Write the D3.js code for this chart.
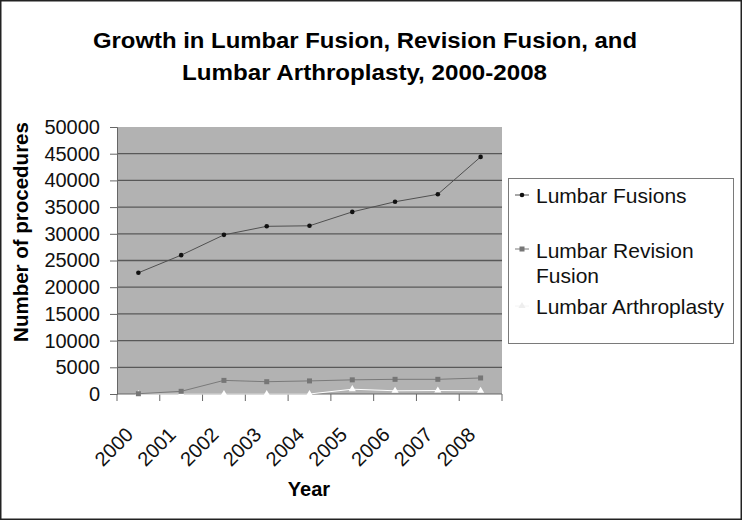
<!DOCTYPE html>
<html><head><meta charset="utf-8">
<script src="https://cdn.jsdelivr.net/npm/d3@7"></script>
<style>body{margin:0;background:#fff}svg{display:block;font-family:"Liberation Sans",Arial,sans-serif}</style>
</head><body><svg id="c" width="742" height="520"></svg>
<script>
const years = ["2000","2001","2002","2003","2004","2005","2006","2007","2008"];
const fusions = [22700, 26000, 29800, 31400, 31500, 34100, 36000, 37400, 44400];
const revision = [50, 500, 2550, 2300, 2450, 2650, 2750, 2750, 3000];
const arthroplasty = [0, 0, 0, 0, 0, 900, 600, 650, 600];
const seriesNames = ["Lumbar Fusions", "Lumbar Revision Fusion", "Lumbar Arthroplasty"];
const yTicks = [0,5000,10000,15000,20000,25000,30000,35000,40000,45000,50000];
const titleLines = ["Growth in Lumbar Fusion, Revision Fusion, and", "Lumbar Arthroplasty, 2000-2008"];

const svg = d3.select("#c");
svg.append("rect").attr("x",0.75).attr("y",0.75).attr("width",740.5).attr("height",518.5)
  .attr("fill","#fff").attr("stroke","#222").attr("stroke-width",1.5);

const L=117, R=502, T=127, B=394;
const x = d3.scaleBand().domain(years).range([L,R]).padding(0);
const y = d3.scaleLinear().domain([0,50000]).range([B,T]);
const cx = d => x(d)+x.bandwidth()/2;

svg.append("rect").attr("x",L).attr("y",T).attr("width",R-L).attr("height",B-T).attr("fill","#b2b2b2");
// gridlines
svg.append("g").selectAll("line").data(yTicks.filter(v=>v>0&&v<50000)).join("line")
  .attr("x1",L).attr("x2",R).attr("y1",d=>y(d)).attr("y2",d=>y(d))
  .attr("stroke","#585858").attr("stroke-width",1.3);

// y axis
const ya = svg.append("g").attr("transform",`translate(${L},0)`)
  .call(d3.axisLeft(y).tickValues(yTicks).tickSize(7).tickPadding(10).tickFormat(d3.format("d")));
ya.select(".domain").attr("stroke","#666");
ya.selectAll(".tick line").attr("stroke","#666");
ya.selectAll("text").attr("font-size",20).attr("fill","#111").attr("font-family","Liberation Sans, Arial, sans-serif");

// x axis with ticks at category boundaries
const xa = svg.append("g").attr("transform",`translate(0,${B})`);
xa.append("line").attr("x1",L).attr("x2",R).attr("stroke","#666").attr("stroke-width",1.2);
const bounds = years.map(d=>x(d)).concat([R]);
xa.selectAll("line.tk").data(bounds).join("line").attr("class","tk")
  .attr("x1",d=>d).attr("x2",d=>d).attr("y1",0).attr("y2",7).attr("stroke","#666");
xa.selectAll("text").data(years).join("text")
  .attr("transform",d=>`translate(${cx(d)-4},42) rotate(-45)`)
  .attr("text-anchor","end").attr("font-size",20).attr("fill","#111").text(d=>d);

// series
const line = d3.line().x((d,i)=>cx(years[i])).y(d=>y(d));
const sdefs = [
  {vals: fusions, stroke:"#505050", mark:"dot", fill:"#111"},
  {vals: revision, stroke:"#7a7a7a", mark:"square", fill:"#767676"},
  {vals: arthroplasty, stroke:"#ffffff", mark:"tri", fill:"#ffffff"}
];
function marker(g, type, fill, px, py){
  if(type==="dot") g.append("circle").attr("cx",px).attr("cy",py).attr("r",2.3).attr("fill",fill);
  else if(type==="square") g.append("rect").attr("x",px-2.5).attr("y",py-2.5).attr("width",5).attr("height",5).attr("fill",fill);
  else g.append("path").attr("d",d3.symbol(d3.symbolTriangle,22)()).attr("transform",`translate(${px},${py})`).attr("fill",fill);
}
sdefs.slice().reverse().forEach(s=>{
  const g = svg.append("g");
  g.append("path").attr("d",line(s.vals)).attr("fill","none").attr("stroke",s.stroke).attr("stroke-width",1);
  s.vals.forEach((v,i)=>marker(g,s.mark,s.fill,cx(years[i]),y(v)));
});

// titles
svg.append("text").attr("x",365).attr("y",48).attr("text-anchor","middle").attr("font-size",22)
  .attr("font-weight","bold").attr("textLength",544).attr("lengthAdjust","spacingAndGlyphs").text(titleLines[0]);
svg.append("text").attr("x",364.5).attr("y",80).attr("text-anchor","middle").attr("font-size",22)
  .attr("font-weight","bold").attr("textLength",365).attr("lengthAdjust","spacingAndGlyphs").text(titleLines[1]);
svg.append("text").attr("transform","translate(28,232) rotate(-90)").attr("text-anchor","middle")
  .attr("font-size",20.5).attr("font-weight","bold").text("Number of procedures");
svg.append("text").attr("x",309).attr("y",496).attr("text-anchor","middle")
  .attr("font-size",20).attr("font-weight","bold").text("Year");

// legend
const lg = svg.append("g");
lg.append("rect").attr("x",508.5).attr("y",178.5).attr("width",225).attr("height",165)
  .attr("fill","#fff").attr("stroke","#7a7a7a").attr("stroke-width",1);
const legItems = [
  {lines:["Lumbar Fusions"], my:195, base:203},
  {lines:["Lumbar Revision","Fusion"], my:249, base:258},
  {lines:["Lumbar Arthroplasty"], my:306, base:314}
];
legItems.forEach((it,i)=>{
  const s = sdefs[i];
  lg.append("line").attr("x1",515).attr("x2",529).attr("y1",it.my).attr("y2",it.my)
    .attr("stroke", i===2?"#f4f4f4":s.stroke).attr("stroke-width",1);
  marker(lg, s.mark, i===2?"#eeeeee":s.fill, 522, it.my);
  const t = lg.append("text").attr("x",536).attr("y",it.base).attr("font-size",21).attr("fill","#111");
  it.lines.forEach((ln,j)=>t.append("tspan").attr("x",536).attr("dy",j?25:0).text(ln));
});
</script></body></html>
